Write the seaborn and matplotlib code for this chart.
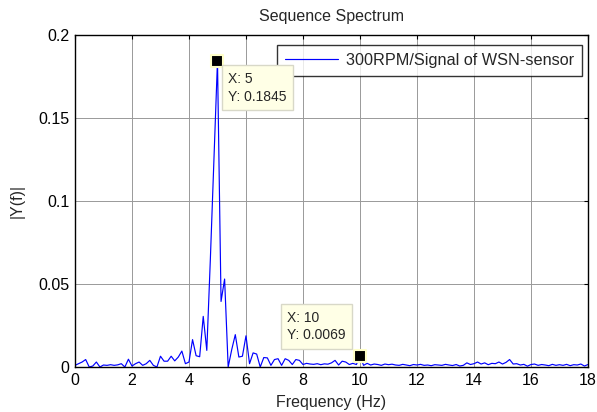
import numpy as np
import pandas as pd
import matplotlib as mpl
import matplotlib.pyplot as plt
import seaborn as sns

mpl.use('Agg')

# single sided amplitude spectrum, 0.125 Hz bins from 0 to 18 Hz
freq_step = 0.125
amp = [
    # 0 - 4 Hz
    0.0010, 0.0020, 0.0030, 0.0045, 0.0000, 0.0006, 0.0030, 0.0000, 0.0012,
    0.0010, 0.0014, 0.0010, 0.0013, 0.0020, 0.0000, 0.0047, 0.0006, 0.0020,
    0.0030, 0.0010, 0.0020, 0.0040, 0.0010, 0.0000, 0.0065, 0.0035, 0.0035,
    0.0065, 0.0037, 0.0060, 0.0096, 0.0020, 0.0030,
    # 4.125 - 6 Hz
    0.0165, 0.0068, 0.0062, 0.0305, 0.0100, 0.0650, 0.1250, 0.1845,
    0.0395, 0.0530, 0.0000, 0.0105, 0.0195, 0.0060, 0.0065, 0.0188,
    # 6.125 - 8 Hz
    0.0020, 0.0085, 0.0078, 0.0000, 0.0057, 0.0055, 0.0010, 0.0045,
    0.0050, 0.0010, 0.0050, 0.0040, 0.0015, 0.0045, 0.0040, 0.0015,
    # 8.125 - 10 Hz
    0.0022, 0.0018, 0.0016, 0.0020, 0.0014, 0.0019, 0.0017, 0.0025,
    0.0040, 0.0012, 0.0035, 0.0030, 0.0015, 0.0022, 0.0015, 0.0069,
    # 10.125 - 12 Hz
    0.0010, 0.0022, 0.0012, 0.0018, 0.0015, 0.0010, 0.0018, 0.0014,
    0.0017, 0.0012, 0.0010, 0.0016, 0.0012, 0.0008, 0.0015, 0.0012,
    # 12.125 - 14 Hz
    0.0016, 0.0010, 0.0012, 0.0008, 0.0014, 0.0012, 0.0010, 0.0016,
    0.0012, 0.0009, 0.0015, 0.0006, 0.0010, 0.0025, 0.0015, 0.0020,
    # 14.125 - 16 Hz
    0.0030, 0.0018, 0.0025, 0.0014, 0.0022, 0.0020, 0.0030, 0.0018,
    0.0028, 0.0045, 0.0018, 0.0020, 0.0012, 0.0016, 0.0005, 0.0015,
    # 16.125 - 18 Hz
    0.0018, 0.0010, 0.0015, 0.0012, 0.0008, 0.0016, 0.0010, 0.0014,
    0.0010, 0.0016, 0.0008, 0.0014, 0.0012, 0.0018, 0.0006, 0.0015,
]
freq = np.arange(len(amp)) * freq_step

# data tips
tip_x = [5, 10]
tip_y = [0.1845, 0.0069]
tip_text = ['X: 5\nY: 0.1845', 'X: 10\nY: 0.0069']

x_ticks = [0, 2, 4, 6, 8, 10, 12, 14, 16, 18]
y_ticks = [0, 0.05, 0.1, 0.15, 0.2]
y_tick_labels = ['0', '0.05', '0.1', '0.15', '0.2']

series_label = '300RPM/Signal of WSN-sensor'

sns.set_theme(style='white')
plt.rcParams['font.family'] = ['Liberation Sans', 'DejaVu Sans']

df = pd.DataFrame({'f': freq, 'Y': amp})

fig = plt.figure(figsize=(5.97, 4.12), dpi=100)
ax = fig.add_axes([0.1256, 0.1092, 0.8593, 0.8058])

sns.lineplot(x='f', y='Y', data=df, color='#0000ff', linewidth=0.85,
             label=series_label, ax=ax)

ax.set_xlim(0, 18)
ax.set_ylim(0, 0.2)
ax.set_xticks(x_ticks)
ax.set_yticks(y_ticks)
ax.set_yticklabels(y_tick_labels)
ax.tick_params(direction='in', length=3, width=0.8, top=True, right=True,
               labelsize=11.5, colors='black', pad=4)
ax.grid(True, color='0.6', linewidth=0.7)
for s in ax.spines.values():
    s.set_color('black')
    s.set_linewidth(1.0)

ax.set_title('Sequence Spectrum', fontsize=11.5, pad=10)
ax.set_xlabel('Frequency (Hz)', fontsize=11.5, labelpad=5)
ax.set_ylabel('|Y(f)|', fontsize=11.5, labelpad=10)

leg = ax.legend(loc='upper right', bbox_to_anchor=(0.988, 0.970),
                borderaxespad=0, fontsize=11.7, handlelength=3.3,
                handletextpad=0.45, borderpad=0.5, fancybox=False,
                frameon=True)
leg.get_frame().set_edgecolor('black')
leg.get_frame().set_linewidth(1.0)

# data tip markers and boxes
sns.scatterplot(x=tip_x, y=tip_y, marker='s', s=80, color='black',
                edgecolor='#ffffc8', linewidth=1.5, zorder=5, ax=ax,
                legend=False)
offsets = [(11, -11), (-73, 45)]
for x, y, t, off in zip(tip_x, tip_y, tip_text, offsets):
    ax.annotate(t, xy=(x, y), xytext=off, textcoords='offset pixels',
                ha='left', va='top', fontsize=10, linespacing=1.35,
                bbox=dict(boxstyle='square,pad=0.45', fc='#ffffe6',
                          ec='#d8d8c8', lw=1.0), zorder=6)

fig.savefig('out.png', dpi=100, facecolor='white')
